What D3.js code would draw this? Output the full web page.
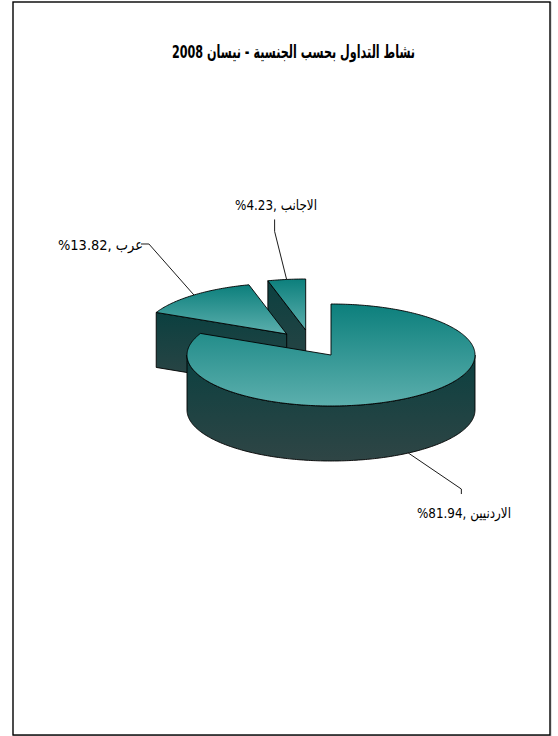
<!DOCTYPE html>
<html lang="ar">
<head>
<meta charset="utf-8">
<title>نشاط التداول بحسب الجنسية</title>
<script src="https://cdn.jsdelivr.net/npm/d3@7/dist/d3.min.js"></script>
<style>
  html, body { margin: 0; padding: 0; background: #fff; }
  svg { display: block; }
  text { font-family: "DejaVu Sans", "Liberation Sans", sans-serif; fill: #000; direction: rtl; }
</style>
</head>
<body>
<svg id="chart" width="558" height="736"></svg>
<script>
// Trading activity by nationality, April 2008
const chartTitle = "نشاط التداول بحسب الجنسية - نيسان 2008";
const categories = ["الاردنيين", "عرب", "الاجانب"];
const shares = [81.94, 13.82, 4.23];

// Layout of the tilted pie
const centre = { x: 331, y: 355 };
const radiusX = 144, radiusY = 51, depth = 55;
const explode = [[0, 0], [-44.3, -21], [-25.3, -25]];
// Leader line bends relative to the slice edge
const leaderBends = [
  [[53, 36], [53, 41]],
  [[-45, -51], [-53, -51]],
  [[-12, -48], [-12, -60]]
];
const labelBoxes = [
  { right: 511, baseline: 518, width: 94 },
  { right: 143, baseline: 250, width: 85 },
  { right: 317, baseline: 210, width: 82 }
];

const svg = d3.select("#chart");
const defs = svg.append("defs");

function verticalGradient(id, top, bottom) {
  const g = defs.append("linearGradient").attr("id", id)
    .attr("x1", 0).attr("y1", 0).attr("x2", 0).attr("y2", 1);
  g.append("stop").attr("offset", 0).attr("stop-color", top);
  g.append("stop").attr("offset", 1).attr("stop-color", bottom);
}
verticalGradient("topFace", "#0c7f7c", "#5cafad");
verticalGradient("sideFace", "#0b4040", "#2f4545");

// Page frame
svg.append("rect").attr("x", 13.5).attr("y", 2.5).attr("width", 537.5).attr("height", 733)
  .attr("fill", "none").attr("stroke", "#bdbdbd").attr("stroke-width", 1);
svg.append("rect").attr("x", 13).attr("y", 2).attr("width", 537).attr("height", 733)
  .attr("fill", "#fff").attr("stroke", "#000").attr("stroke-width", 1.4);

// Title, fitted to the width of the plot heading
svg.append("text")
  .attr("x", 415).attr("y", 58)
  .attr("text-anchor", "start")
  .attr("font-size", 18).attr("font-weight", "bold")
  .attr("textLength", 243).attr("lengthAdjust", "spacingAndGlyphs")
  .text(chartTitle);

const pie = d3.pie().sort(null)
  .startAngle(0).endAngle(2 * Math.PI)
  .value(d => d);
const slices = pie(shares).map((s, i) => ({
  ...s,
  cx: centre.x + explode[i][0],
  cy: centre.y + explode[i][1]
}));

// Maps a unit-circle offset on the tilted disc to page coordinates
const rimX = d3.scaleLinear().domain([-1, 1]).range([-radiusX, radiusX]);
const rimY = d3.scaleLinear().domain([-1, 1]).range([-radiusY, radiusY]);
const rimPoint = (s, a, drop = 0) => [
  s.cx + rimX(Math.sin(a)),
  s.cy + rimY(-Math.cos(a)) + drop
];

const stepAngles = (a0, a1) => {
  const n = Math.max(2, Math.ceil(Math.abs(a1 - a0) * 60));
  return d3.range(n + 1).map(k => a0 + (a1 - a0) * k / n);
};
const line = d3.line();
const closed = pts => line(pts) + "Z";

// Visible outer wall runs only along the front half of the disc
function outerWall(s) {
  const a0 = Math.max(s.startAngle, Math.PI / 2);
  const a1 = Math.min(s.endAngle, 3 * Math.PI / 2);
  if (a1 <= a0) return null;
  const upper = stepAngles(a0, a1).map(a => rimPoint(s, a));
  const lower = stepAngles(a1, a0).map(a => rimPoint(s, a, depth));
  return closed(upper.concat(lower));
}

// The cut face behind the slice's clockwise edge, visible on the detached wedges
function cutWall(s) {
  const rim = rimPoint(s, s.startAngle);
  return closed([rim, [s.cx, s.cy], [s.cx, s.cy + depth], [rim[0], rim[1] + depth]]);
}

function topFace(s) {
  return closed([[s.cx, s.cy]].concat(stepAngles(s.startAngle, s.endAngle).map(a => rimPoint(s, a))));
}

const drawOrder = [2, 1, 0];
const faces = svg.append("g").attr("stroke", "#000").attr("stroke-width", 0.9).attr("stroke-linejoin", "round");
drawOrder.forEach(i => {
  const s = slices[i];
  if (i !== 0) faces.append("path").attr("d", cutWall(s)).attr("fill", "url(#sideFace)");
  const wall = outerWall(s);
  if (wall) faces.append("path").attr("d", wall).attr("fill", "url(#sideFace)");
  faces.append("path").attr("d", topFace(s)).attr("fill", "url(#topFace)");
});

// Leader lines start on the rim at each slice's mid angle
slices.forEach((s, i) => {
  const mid = (s.startAngle + s.endAngle) / 2;
  const start = rimPoint(s, mid, i === 0 ? depth : 0);
  const pts = [start].concat(leaderBends[i].map(b => [start[0] + b[0], start[1] + b[1]]));
  svg.append("path").attr("d", line(pts)).attr("fill", "none")
    .attr("stroke", "#000").attr("stroke-width", 0.9);
});

// Data labels: category, comma, then the percentage
categories.forEach((c, i) => {
  const box = labelBoxes[i];
  svg.append("text")
    .attr("x", box.right).attr("y", box.baseline)
    .attr("text-anchor", "start")
    .attr("font-size", 14.5)
    .attr("textLength", box.width).attr("lengthAdjust", "spacingAndGlyphs")
    .text(`${c} ,${shares[i].toFixed(2)}%`);
});
</script>
</body>
</html>
